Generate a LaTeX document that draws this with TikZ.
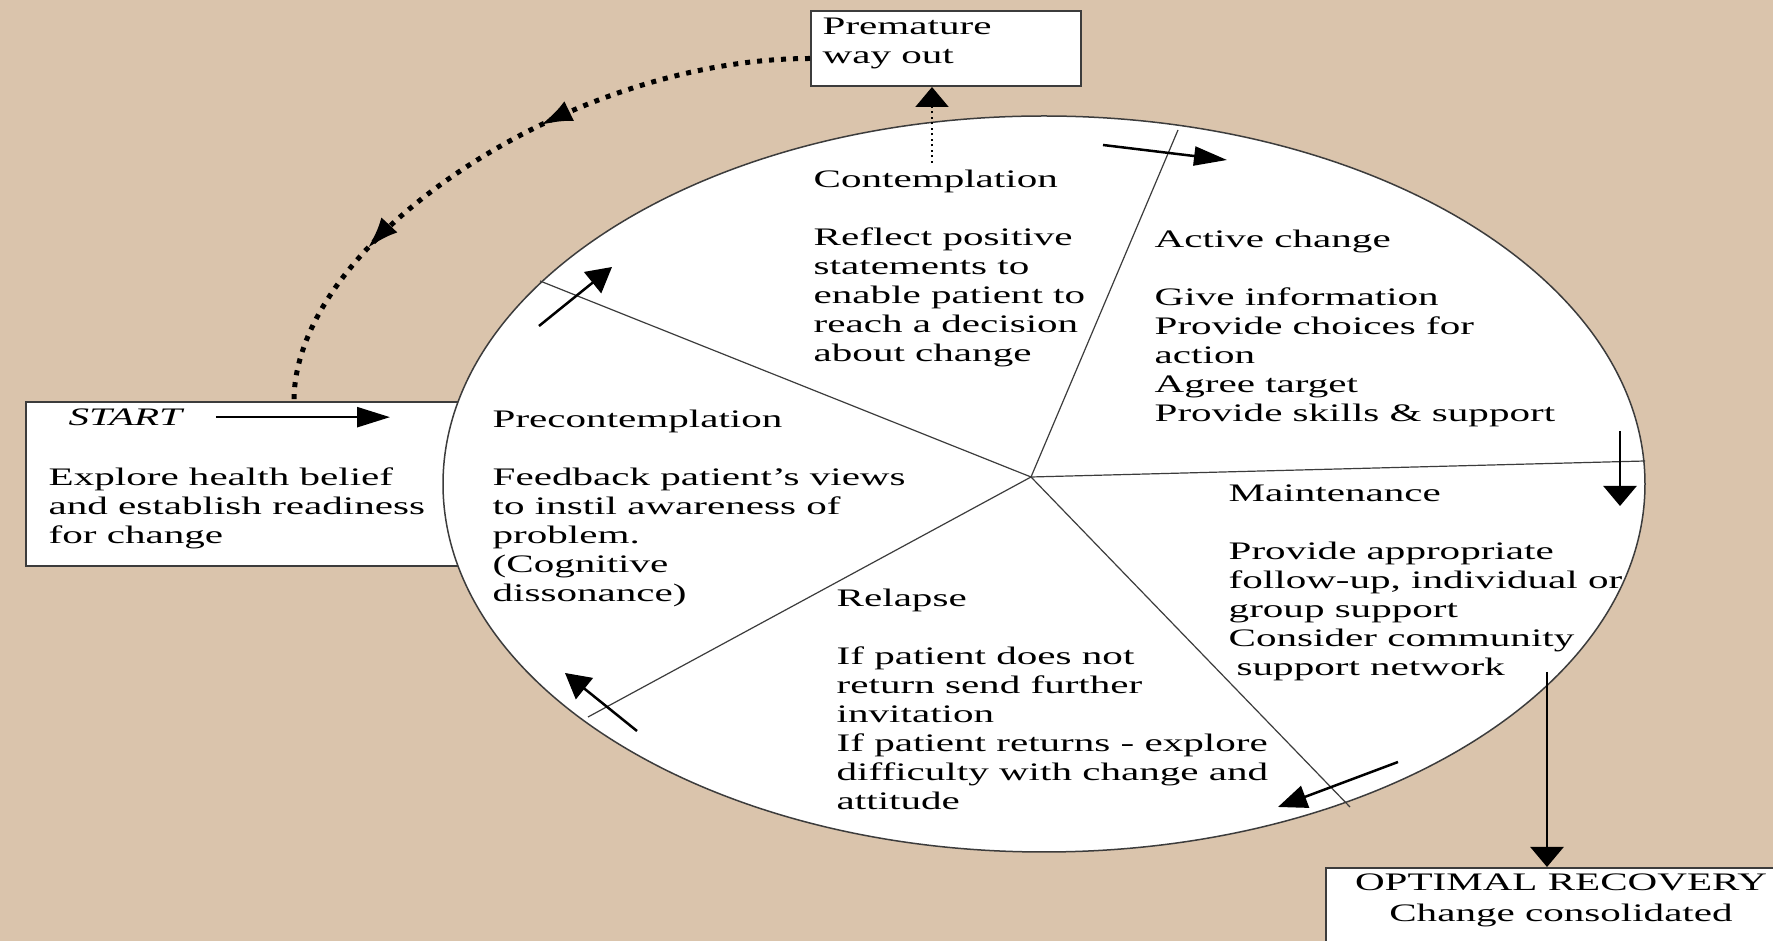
\documentclass[tikz,border=0pt]{standalone}
\usepackage{fontspec}
\setmainfont{Liberation Serif}[FakeStretch=1.63]
\usetikzlibrary{arrows.meta}
\usetikzlibrary{decorations.markings}
\usetikzlibrary{positioning}
\definecolor{tan}{RGB}{218,196,172}
\definecolor{rim}{RGB}{60,60,60}
\newcommand{\stagefont}{\fontsize{7.17pt}{8.25pt}\selectfont}
\tikzset{
    stagetext/.style={anchor=north west,inner sep=0pt,align=left,font=\stagefont},
    box/.style={draw=rim,line width=0.2mm,fill=white},
    spoke/.style={draw=rim,line width=0.12mm},
    turn/.style={line width=0.25mm},
    vtip/.tip={Triangle[length=2mm,width=3.3mm]},
    htip/.tip={Triangle[length=3.3mm,width=2mm]},
    dtip/.tip={Triangle[length=2.5mm,width=2.7mm]},
    mid arrows/.style={
        postaction={
            decorate,decoration={
                markings,
                mark=at position 0.42 with {\arrow{Latex[length=3.2mm,width=2.2mm]}},
                mark=at position 0.74 with {\arrow{Latex[length=3.2mm,width=2.2mm]}}
            }
        }
    },
}

\begin{document}
\begin{tikzpicture}[x=0.1mm,y=-0.1mm]
\useasboundingbox (0,0) rectangle (1773,941);
\clip (0,0) rectangle (1773,941);
\fill[tan] (0,0) rectangle (1773,941);
% start box, partly under the wheel
\node[box,anchor=north west,minimum width=45mm,minimum height=16.4mm] (startbox) at (25,401) {};
% the wheel
\draw[draw=rim,line width=0.15mm,fill=white] (1044,484) ellipse [x radius=60.1mm,y radius=36.8mm];
\coordinate (hub) at (1031,477);
\foreach \p in {(540,281),(1178,130),(1645,461),(1350,807),(588,717)}
    \draw[spoke] (hub) -- \p;
\draw[turn,-dtip] (539,326) -- (612,267);
\draw[turn,-{Triangle[length=3.3mm,width=1.9mm]}] (1103,145) -- (1227,160);
\draw[turn,-vtip] (1620,431) -- (1620,506);
\draw[turn,-{Triangle[length=2.9mm,width=2.3mm]}] (1398,762) -- (1278,807);
\draw[turn,-dtip] (637,731) -- (565,673);
% stages
\node[stagetext] (contemp) at (813,169) {Contemplation\\[8.25pt]Reflect positive\\statements to\\enable patient to\\reach a decision\\about change};
\node[stagetext] (active) at (1154,229) {Active change\\[8.25pt]Give information\\Provide choices for\\action\\Agree target\\Provide skills \& support};
\node[stagetext] (precon) at (492,409) {Precontemplation\\[8.25pt]Feedback patient’s views\\to instil awareness of\\problem.\\(Cognitive\\dissonance)};
\node[stagetext] (maint) at (1228,484) {Maintenance\\[8.25pt]Provide appropriate\\follow-up, individual or\\group support\\Consider community\\\hspace{0.8mm}support network};
\node[stagetext] (relapse) at (836,588) {Relapse\\[8.25pt]If patient does not\\return send further\\invitation\\If patient returns - explore\\difficulty with change and\\attitude};
% start
\node[stagetext,font=\stagefont\itshape] (start) at (68,408) {START};
\coordinate (startend) at (390,416);
\draw[turn,-htip] ([xshift=3.3mm]start.east) -- (startend |- start.east);
\node[stagetext] (explore) at (48,467) {Explore health belief\\and establish readiness\\for change};
% ways out
\node[box,anchor=north west,minimum width=27mm,minimum height=7.5mm] (prem) at (810,10) {};
\node[stagetext] (premtxt) at (822,17) {Premature\\way out};
\coordinate (leave) at (932,163);
\draw[line width=0.2mm,densely dotted,-vtip] (leave) -- (leave |- prem.south);
\node[box,anchor=north west,minimum width=47mm,minimum height=12mm] (optimal) at (1325,867) {};
\node[anchor=north,inner sep=0pt,align=center,font=\stagefont] (optimaltxt) at ([yshift=-0.6mm]optimal.north) {OPTIMAL RECOVERY\\[0.7pt]Change consolidated};
\coordinate (consol) at (1547,672);
\draw[turn,-vtip] (consol) -- (consol |- optimal.north);
% back to the start
\coordinate (backin) at (294,401);
\draw[line width=0.5mm,dash pattern=on 0.5mm off 0.7mm,mid arrows] ([yshift=-1mm]prem.west) .. controls +(-240,0) and +(0,-160) .. (backin);
\end{tikzpicture}
\end{document}
